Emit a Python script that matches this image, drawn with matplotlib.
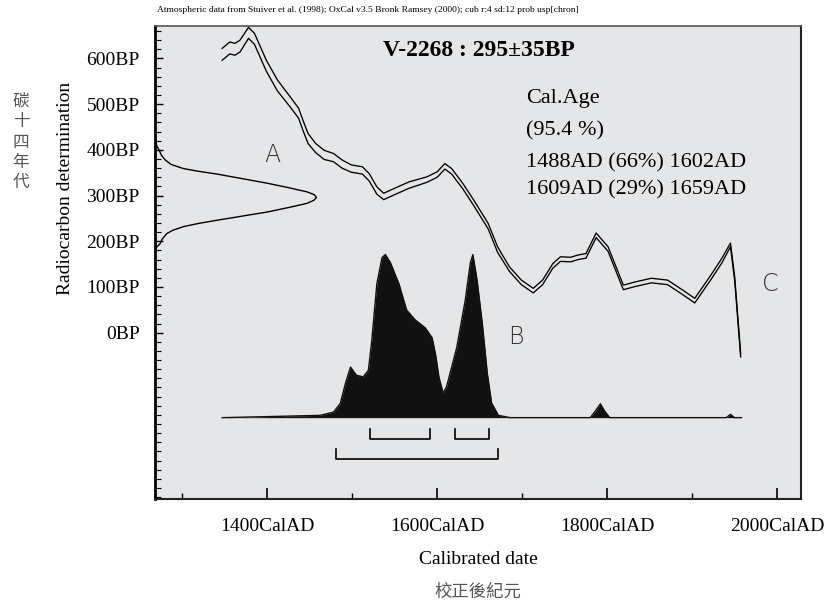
import matplotlib
matplotlib.use("Agg")
import matplotlib.pyplot as plt
from matplotlib.ticker import FixedLocator, MultipleLocator

# ---------------- data ----------------
# calibration curve: calendar year, centre 14C age (BP) and 1-sigma error
cal_year = [1347, 1356, 1362, 1368, 1378, 1385, 1399, 1412, 1427, 1437, 1442,
            1448, 1457, 1467, 1478, 1488, 1499, 1512, 1520, 1529, 1537, 1550,
            1567, 1588, 1600, 1609, 1617, 1630, 1643, 1660, 1671, 1685, 1699,
            1713, 1724, 1736, 1745, 1757, 1766, 1775, 1787, 1801, 1819, 1833,
            1852, 1871, 1889, 1903, 1922, 1935, 1945, 1950, 1957]
cal_bp = [609, 623, 620, 627, 656, 643, 584, 541, 505, 480, 454,
          425, 404, 389, 383, 369, 359, 355, 340, 311, 298, 309,
          323, 335, 346, 364, 353, 321, 284, 233, 182, 139, 110,
          92, 110, 146, 161, 160, 165, 168, 213, 183, 99, 106,
          114, 110, 88, 70, 121, 158, 192, 118, -49]
cal_err = [13, 13, 13, 13, 12, 12, 12, 12, 11, 11, 11,
           11, 10, 10, 9, 9, 8, 8, 8, 8, 7, 7,
           7, 6, 6, 6, 6, 6, 6, 6, 6, 5, 5,
           5, 5, 5, 5, 5, 5, 5, 5, 5, 5, 5,
           5, 5, 5, 5, 5, 5, 4, 4, 4]

# measured radiocarbon date (A): 14C age and relative probability
a_bp = [425, 410, 396, 388, 378, 368, 359, 353, 347, 337, 327, 317, 308, 302,
        296, 290, 283, 274, 264, 255, 246, 239, 232, 224, 217, 205, 194, 188, 180]
a_prob = [0.002, 0.01, 0.03, 0.04, 0.063, 0.1, 0.176, 0.27, 0.384, 0.54, 0.695,
          0.83, 0.942, 0.985, 1.0, 0.985, 0.942, 0.83, 0.695, 0.54, 0.384,
          0.27, 0.176, 0.11, 0.074, 0.045, 0.03, 0.012, 0.002]

# calibrated distribution (B): calendar year and relative probability
b_year = [1347, 1462, 1478, 1486, 1492, 1498, 1505, 1513, 1519, 1523, 1529,
          1535, 1539, 1545, 1555, 1564, 1574, 1586, 1594, 1598, 1602, 1607,
          1611, 1623, 1633, 1639, 1642, 1647, 1653, 1659, 1664, 1672, 1686,
          1780, 1786, 1792, 1797, 1803, 1940, 1945, 1950, 1958]
b_prob = [0, 0.014, 0.034, 0.087, 0.21, 0.31, 0.26, 0.25, 0.29, 0.47, 0.82,
          0.98, 1.0, 0.95, 0.82, 0.66, 0.60, 0.55, 0.49, 0.39, 0.25, 0.15,
          0.19, 0.43, 0.72, 0.95, 1.0, 0.84, 0.58, 0.27, 0.09, 0.014, 0,
          0, 0.04, 0.085, 0.04, 0, 0, 0.02, 0, 0]

# calibrated ranges shown as brackets
ranges_1sigma = [(1521, 1591), (1621, 1661)]
ranges_2sigma = [(1481, 1671)]

x_ticks = [1400, 1600, 1800, 2000]
x_minor = [1300, 1500, 1700, 1900]
x_ticklabels = ["1400CalAD", "1600CalAD", "1800CalAD", "2000CalAD"]
y_ticks = [0, 100, 200, 300, 400, 500, 600]
y_ticklabels = ["0BP", "100BP", "200BP", "300BP", "400BP", "500BP", "600BP"]

header = ("Atmospheric data from Stuiver et al. (1998); OxCal v3.5 Bronk Ramsey "
          "(2000); cub r:4 sd:12 prob usp[chron]")
sample_label = "V-2268 : 295\u00b135BP"
result_lines = ["Cal.Age", "(95.4 %)", "1488AD (66%) 1602AD", "1609AD (29%) 1659AD"]

# ---------------- figure ----------------
W, H = 827, 604
fig = plt.figure(figsize=(W / 100, H / 100), dpi=100)
fig.patch.set_facecolor("white")

def fx(px):
    return px / W

def fy(py):
    return 1 - py / H

left, right, top, bottom = 155, 801, 26, 499
ax = fig.add_axes([fx(left), fy(bottom), (right - left) / W, (bottom - top) / H])
ax.set_facecolor("#e5e6e8")
XMIN, XMAX = 1268, 2028
ax.set_xlim(XMIN, XMAX)
ax.set_ylim(-364, 671)

serif = "Liberation Serif"

# calibration curve (two lines: +/- 1 sigma)
upper = [b + e for b, e in zip(cal_bp, cal_err)]
lower = [b - e for b, e in zip(cal_bp, cal_err)]
ax.plot(cal_year, upper, color="black", lw=0.95, solid_joinstyle="round")
ax.plot(cal_year, lower, color="black", lw=0.95, solid_joinstyle="round")

# measured date distribution drawn from the y axis
A_WIDTH = 190
a_x = [XMIN + A_WIDTH * p for p in a_prob]
ax.plot(a_x, a_bp, color="black", lw=1.0, solid_joinstyle="round")

# calibrated distribution
B_BASE, B_HEIGHT = -186, 357
b_y = [B_BASE + B_HEIGHT * p for p in b_prob]
ax.fill_between(b_year, B_BASE, b_y, color="#111111", lw=0)
ax.plot(b_year, b_y, color="#111111", lw=1.0)

# range brackets
for s, e in ranges_1sigma:
    ax.plot([s, s, e, e], [-210, -232, -232, -210], color="black", lw=1.2)
for s, e in ranges_2sigma:
    ax.plot([s, s, e, e], [-254, -276, -276, -254], color="black", lw=1.2)

# ticks
ax.xaxis.set_major_locator(FixedLocator(x_ticks))
ax.xaxis.set_minor_locator(FixedLocator(x_minor))
ax.set_xticklabels(x_ticklabels, fontsize=14, family=serif)
ax.yaxis.set_major_locator(FixedLocator(y_ticks))
ax.yaxis.set_minor_locator(MultipleLocator(20))
ax.set_yticklabels(y_ticklabels, fontsize=14, family=serif)
ax.tick_params(axis="x", which="major", direction="in", length=8, width=1.2, pad=14)
ax.tick_params(axis="x", which="minor", direction="in", length=4, width=1.0)
ax.tick_params(axis="y", which="major", direction="in", length=6, width=1.0, pad=11)
ax.tick_params(axis="y", which="minor", direction="in", length=4, width=0.8)

for side, lw, col in [("left", 2.0, "black"), ("bottom", 1.5, "#222222"),
                      ("right", 1.5, "#222222"), ("top", 1.2, "#555555")]:
    ax.spines[side].set_linewidth(lw)
    ax.spines[side].set_color(col)

# texts
fig.text(fx(157), fy(10), header, fontsize=6.8, family=serif, va="center")
fig.text(fx(383), fy(50), sample_label, fontsize=17, family=serif,
         weight="bold", va="center")
for txt, py in zip(result_lines, [98, 131, 163, 190]):
    fig.text(fx(526), fy(py), txt, fontsize=16, family=serif, va="center")

for txt, px, py in [("A", 272, 155), ("B", 516, 337), ("C", 770, 284)]:
    fig.text(fx(px), fy(py), txt, fontsize=17, family="DejaVu Sans",
             weight="light", color="#333333", ha="center", va="center")

fig.text(fx(66), fy(188), "Radiocarbon determination", rotation=90,
         fontsize=14, family=serif, ha="center", va="center")
fig.text(fx(21), fy(142), "\n".join("碳十四年代"), fontsize=12,
         family=["Noto Sans CJK TC", "DejaVu Sans"], color="#555555",
         ha="center", va="center", linespacing=1.25)
fig.text(fx(478), fy(560), "Calibrated date", fontsize=14, family=serif,
         ha="center", va="center")
fig.text(fx(478), fy(592), "校正後紀元", fontsize=12.5,
         family=["Noto Sans CJK TC", "DejaVu Sans"], color="#555555",
         ha="center", va="center")

fig.savefig("out.png", dpi=100)
